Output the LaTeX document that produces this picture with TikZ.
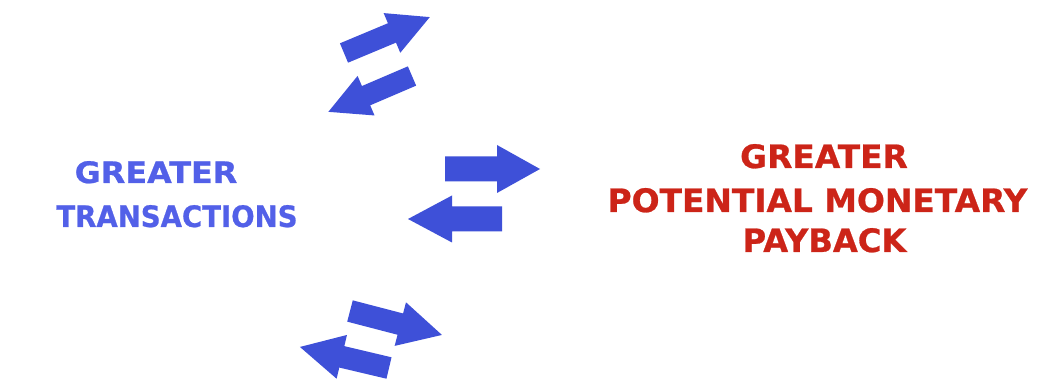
\documentclass[tikz,border=0pt]{standalone}
\usepackage{fontspec}
\setmainfont{DejaVu Sans}
\newfontfamily\heavyfont[FakeBold=0.8]{DejaVu Sans Bold}
\usetikzlibrary{calc}
\definecolor{arrowblue}{RGB}{62,80,216}
\definecolor{textblue}{RGB}{82,96,232}
\definecolor{textred}{RGB}{204,36,24}
\newcommand{\blockarr}[7]{%
  \fill[arrowblue, shift={(#1,#2)}, rotate=#3]
    (0,-#5/2) -- (#4-#7,-#5/2) -- (#4-#7,-#6/2) -- (#4,0) --
    (#4-#7,#6/2) -- (#4-#7,#5/2) -- (0,#5/2) -- cycle;}
\begin{document}
\begin{tikzpicture}[x=1pt,y=1pt,
  lbl/.style={inner sep=0pt, anchor=base},
  bluetxt/.style={lbl, text=textblue, font=\heavyfont\fontsize{29.5}{30}\selectfont},
  redtxt/.style={lbl, text=textred, font=\heavyfont\fontsize{32.2}{33}\selectfont}]
\fill[white] (0,0) rectangle (1037,383);
\useasboundingbox (0,0) rectangle (1037,383);
% arrows: tail x, tail y, angle, length, shaft width, head width, head length
\blockarr{344}{330}{22.7}{93}{21}{43}{41}
\blockarr{412}{307}{203.2}{91}{21}{43}{41}
\blockarr{445}{214}{0}{95}{25}{48}{43}
\blockarr{502}{164}{180}{94}{25}{47}{44}
\blockarr{350}{72}{-14.6}{95}{22}{45}{43}
\blockarr{389}{15}{166.7}{91.5}{22}{45}{43}
% left text
\node[bluetxt] (lg) at (156,200) {\scalebox{1.08}[1]{GREATER}};
\node[bluetxt] (lt) at (177,156) {\scalebox{0.934}[1]{TRANSACTIONS}};
% right text
\node[redtxt] (rg) at (824,215) {\scalebox{1.02}[1]{GREATER}};
\node[redtxt] (rp) at (817.5,171) {\scalebox{1.02}[1]{POTENTIAL MONETARY}};
\node[redtxt] (rb) at (824.5,131) {PAYBACK};
\end{tikzpicture}
\end{document}
